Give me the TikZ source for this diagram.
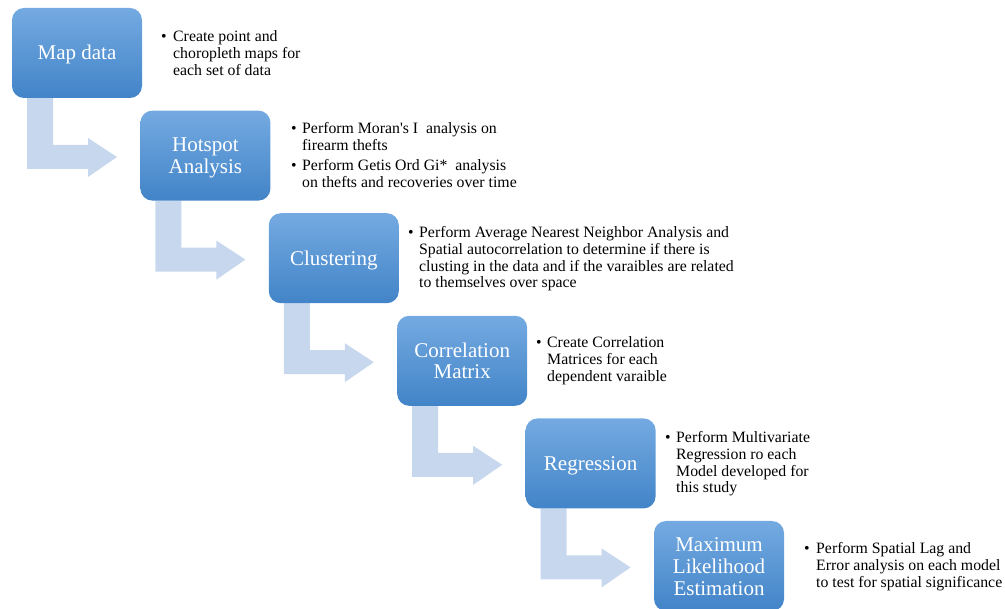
\documentclass[tikz,border=0pt]{standalone}
\usepackage{fontspec}
\setmainfont{Liberation Serif}[Ligatures=TeXOff]
\usetikzlibrary{calc,backgrounds}
\definecolor{btop}{RGB}{116,170,225}
\definecolor{bmid}{RGB}{88,154,215}
\definecolor{bbot}{RGB}{66,132,200}
\definecolor{arrowc}{RGB}{199,215,237}
\newcommand\boxlabel[2]{\raisebox{#1}[0pt][0pt]{\begin{tabular}[t]{@{}c@{}}#2\end{tabular}}}
\begin{document}
\begin{tikzpicture}[x=1pt,y=-1pt,
  stepbox/.style={anchor=north west, minimum width=130pt, minimum height=90pt,
    inner sep=0pt, outer sep=0pt, rounded corners=12pt,
    top color=btop, middle color=bmid, bottom color=bbot, shading angle=0,
    text=white, font=\fontsize{21}{21.7}\selectfont},
  bul/.style={anchor=base west, inner sep=0pt, font=\fontsize{15.8}{16.6}\selectfont},
  desc/.style={anchor=base west, inner sep=0pt, font=\fontsize{15.8}{16.6}\selectfont},
  bentarrow/.style={fill=arrowc}]
\useasboundingbox (0,0) rectangle (1005,609);

\node[stepbox] (b1) at (12,8) {\boxlabel{-7pt}{Map data}};
\node[stepbox] (b2) at (140.4,110.6) {\boxlabel{3.7pt}{Hotspot\\Analysis}};
\node[stepbox] (b3) at (268.8,213.2) {\boxlabel{-7pt}{Clustering}};
\node[stepbox] (b4) at (397.2,315.8) {\boxlabel{3.7pt}{Correlation\\Matrix}};
\node[stepbox] (b5) at (525.6,418.4) {\boxlabel{-7pt}{Regression}};
\node[stepbox] (b6) at (654,521) {\boxlabel{14pt}{Maximum\\Likelihood\\Estimation}};

\begin{scope}[on background layer]
\foreach \b in {b1,b2,b3,b4,b5}{
  \fill[bentarrow] ($(\b.south west)+(15,0)$) -- ++(26,0) -- ++(0,47) -- ++(35,0)
    -- ++(0,-7) -- ++(29,19) -- ++(-29,20) -- ++(0,-8) -- ++(-61,0) -- cycle;
}
\end{scope}

\node[bul] (u1) at (161,42) {•};
\node[desc] (t1) at (173,42) {\begin{tabular}[t]{@{}l@{}}Create point and\\choropleth maps for\\each set of data\end{tabular}};

\node[bul] (u2a) at (291,134) {•};
\node[desc] (t2a) at (302,134) {\begin{tabular}[t]{@{}l@{}}Perform Moran's I\ \ analysis on\\firearm thefts\end{tabular}};
\node[bul] (u2b) at (291,171) {•};
\node[desc] (t2b) at (302,171) {\begin{tabular}[t]{@{}l@{}}Perform Getis Ord Gi*\ \ analysis\\on thefts and recoveries over time\end{tabular}};

\node[bul] (u3) at (408,238) {•};
\node[desc] (t3) at (419,238) {\begin{tabular}[t]{@{}l@{}}Perform Average Nearest Neighbor Analysis and\\Spatial autocorrelation to determine if there is\\clusting in the data and if the varaibles are related\\to themselves over space\end{tabular}};

\node[bul] (u4) at (536,348) {•};
\node[desc] (t4) at (547,348) {\begin{tabular}[t]{@{}l@{}}Create Correlation\\Matrices for each\\dependent varaible\end{tabular}};

\node[bul] (u5) at (665,443) {•};
\node[desc] (t5) at (676,443) {\begin{tabular}[t]{@{}l@{}}Perform Multivariate\\Regression ro each\\Model developed for\\this study\end{tabular}};

\node[bul] (u6) at (804,554) {•};
\node[desc] (t6) at (816,554) {\begin{tabular}[t]{@{}l@{}}Perform Spatial Lag and\\Error analysis on each model\\to test for spatial significance\end{tabular}};
\end{tikzpicture}
\end{document}
